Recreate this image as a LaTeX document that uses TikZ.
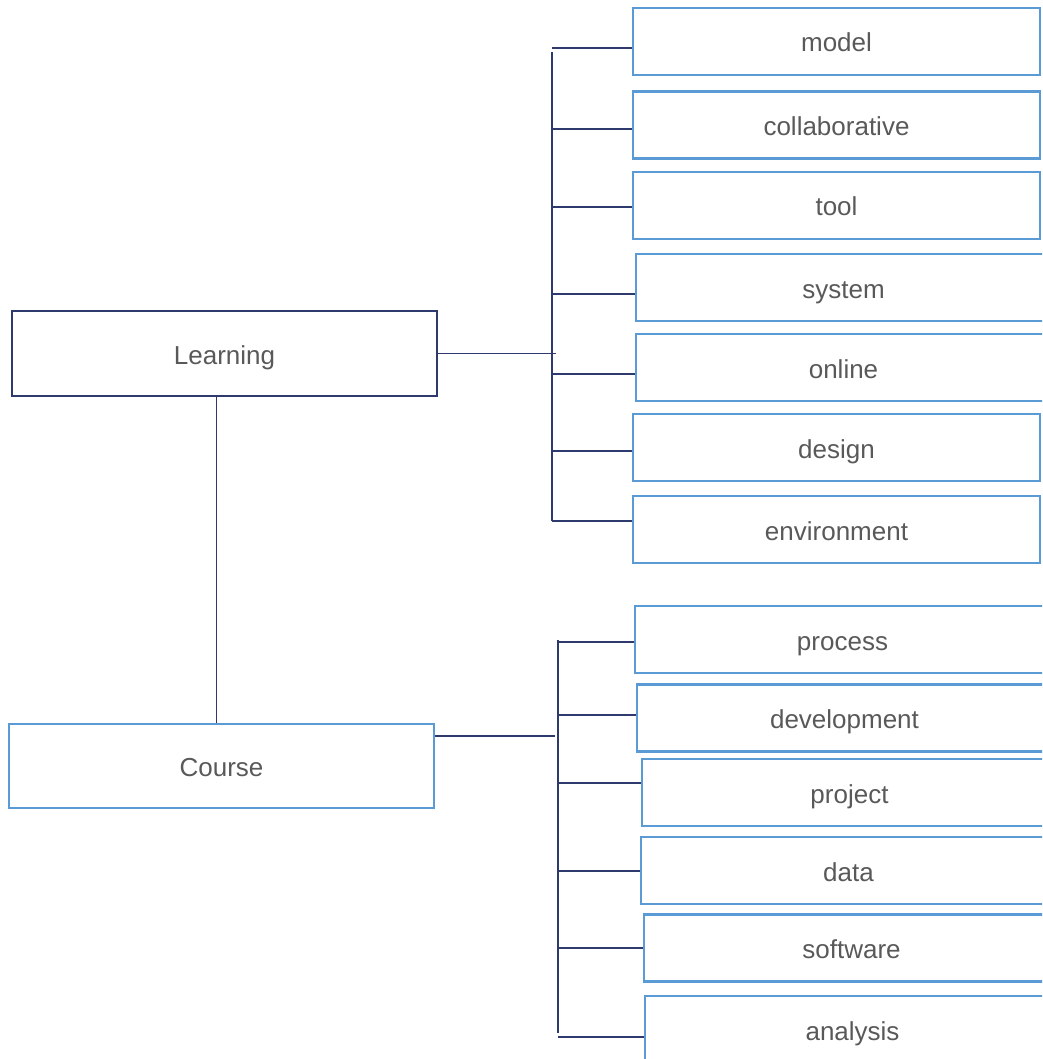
\documentclass[tikz,border=0pt]{standalone}
\usepackage{fontspec}
\setmainfont{Liberation Sans}
\usetikzlibrary{calc}
\definecolor{navy}{HTML}{2E3A6E}
\definecolor{boxblue}{HTML}{5B9BD5}
\definecolor{textgray}{HTML}{595959}
\begin{document}
\begin{tikzpicture}[x=1pt,y=-1pt,
  topic/.style={draw=navy,line width=2.7pt,minimum width=425pt,minimum height=85pt,
    text=textgray,text height=21pt,text depth=0pt,font=\fontsize{26}{31}\selectfont},
  term/.style={draw=boxblue,line width=2.7pt,minimum width=407pt,minimum height=67pt,
    text=textgray,text height=21pt,text depth=0pt,font=\fontsize{26}{31}\selectfont},
  cut/.style={minimum width=415pt},
  link/.style={draw=navy,line width=1.3pt}]
\useasboundingbox (0,0) rectangle (1042,1059);
\clip (0,0) rectangle (1042,1059);

% Main topics
\node[topic] (Learning) at (224.5,353.5) {Learning};
\node[topic,draw=boxblue,minimum height=84pt] (Course) at (221.5,766) {Course};

% Terms of the first topic
\node[term] (model) at (836.5,41.5) {model};
\node[term] (collaborative) at (836.5,125) {collaborative};
\node[term] (tool) at (836.5,205.5) {tool};
\node[term,cut] (system) at (843.5,287.5) {system};
\node[term,cut] (online) at (843.5,367.5) {online};
\node[term] (design) at (836.5,447.5) {design};
\node[term] (environment) at (836.5,529.5) {environment};

% Terms of the second topic
\node[term,cut] (process) at (842.5,639.5) {process};
\node[term,cut] (development) at (844.5,718) {development};
\node[term,cut] (project) at (849.5,792.5) {project};
\node[term,cut] (data) at (848.5,870.5) {data};
\node[term,cut] (software) at (851.5,948) {software};
\node[term,cut] (analysis) at (852.5,1029.5) {analysis};

% Construct the two buses
\coordinate (busA1) at (552,52);
\coordinate (busA2) at (552,521);
\coordinate (busB1) at (558,640);
\coordinate (busB2) at (558,1033);
\draw[link] (busA1) -- (busA2);
\draw[link] (busB1) -- (busB2);

% Topics to buses
\draw[link] (Learning.east) -- ($(Learning.east -| busA1)+(4,0)$) coordinate (lb);
\draw[link] ($(Course.east)+(0,-30)$) coordinate (cb) -- ($(cb -| busB1)+(-3,0)$);
\draw[link] ($(Learning.south)+(-8,0)$) coordinate (lc) -- (lc |- Course.north);

% Branches to the terms
\foreach \t/\dy in {model/6.5,collaborative/4,tool/1.5,system/6.5,online/6.5,
    design/3.5,environment/-8.5}
  \draw[link] ($(\t.west)+(0,\dy)$) coordinate (tw) -- (tw -| busA1);
\foreach \t/\dy in {process/2.5,development/-3,project/-9.5,data/0.5,
    software/0,analysis/7.5}
  \draw[link] ($(\t.west)+(0,\dy)$) coordinate (tw) -- (tw -| busB1);
\end{tikzpicture}
\end{document}
